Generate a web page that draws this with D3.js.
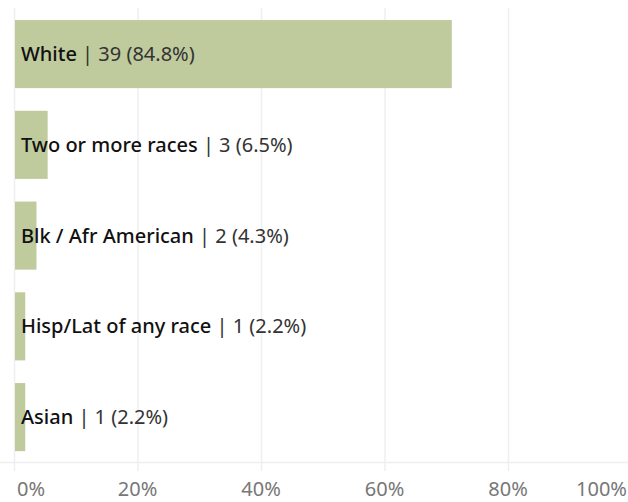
<!DOCTYPE html>
<html>
<head>
<meta charset="utf-8">
<script src="https://cdn.jsdelivr.net/npm/d3@7"></script>
<style>
  body { margin: 0; background: #fff; }
  text { font-family: "Noto Sans", sans-serif; }
</style>
</head>
<body>
<svg id="chart"></svg>
<script>
// categories, counts, share labels and bar length (% of axis)
const categories = ['White', 'Two or more races', 'Blk / Afr American', 'Hisp/Lat of any race', 'Asian']
const counts = [39, 3, 2, 1, 1]
const shares = ['84.8%', '6.5%', '4.3%', '2.2%', '2.2%']
const barValues = [70.9, 5.45, 3.64, 1.82, 1.82]
const ticks = [0, 20, 40, 60, 80, 100]

const width = 628
const height = 502

const data = categories.map((c, i) => ({ cat: c, count: counts[i], share: shares[i], value: barValues[i] }))

const svg = d3.select('#chart')
    .attr('width', width)
    .attr('height', height)

const x = d3.scaleLinear().domain([0, 100]).range([14, 631.5])
const y = d3.scaleBand().domain(categories).range([8.7, 462.5]).paddingInner(0.25).paddingOuter(0.125)

// gridlines
svg.append('g')
    .selectAll('line')
    .data(ticks)
    .join('line')
    .attr('x1', (d) => x(d) + 0.5)
    .attr('x2', (d) => x(d) + 0.5)
    .attr('y1', 8)
    .attr('y2', 471)
    .attr('stroke', '#efefef')
    .attr('stroke-width', 1.5)

svg.append('line')
    .attr('x1', 0).attr('x2', width)
    .attr('y1', 462.5).attr('y2', 462.5)
    .attr('stroke', '#efefef')
    .attr('stroke-width', 1.5)

// bars
svg.append('g')
    .selectAll('rect')
    .data(data)
    .join('rect')
    .attr('x', x(0) + 1)
    .attr('y', (d) => y(d.cat))
    .attr('width', (d) => x(d.value) - x(0) - 1)
    .attr('height', y.bandwidth())
    .attr('fill', '#bfca9d')

// bar labels
const lbl = svg.append('g')
    .selectAll('text')
    .data(data)
    .join('text')
    .attr('x', 21)
    .attr('y', (d) => y(d.cat) + y.bandwidth() / 2)
    .attr('dy', '0.35em')
    .style('font-size', '20px')

lbl.append('tspan')
    .attr('fill', '#111')
    .style('font-weight', 500)
    .text((d) => d.cat)

lbl.append('tspan')
    .attr('fill', '#333')
    .text((d) => ` | ${d.count} (${d.share})`)

// x axis labels
svg.append('g')
    .selectAll('text')
    .data(ticks)
    .join('text')
    .attr('x', (d) => d === 0 ? 17 : d === 100 ? 627 : x(d))
    .attr('y', 496)
    .attr('text-anchor', (d) => d === 0 ? 'start' : d === 100 ? 'end' : 'middle')
    .attr('fill', '#777')
    .style('font-size', '20px')
    .text((d) => d + '%')
</script>
</body>
</html>
